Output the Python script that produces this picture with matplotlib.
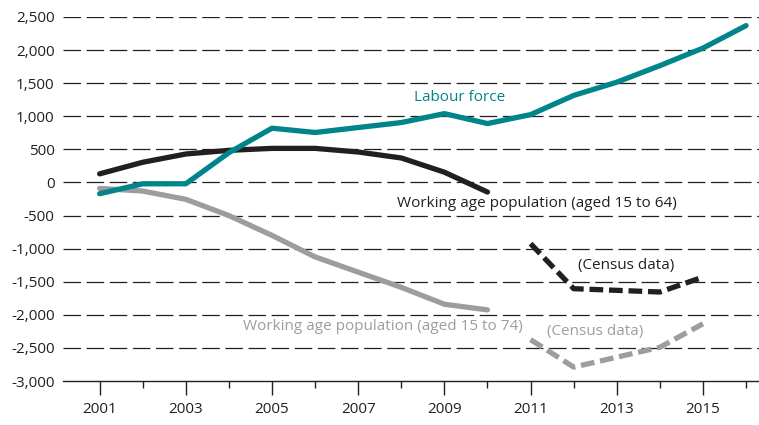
import matplotlib
matplotlib.use("Agg")
import matplotlib.pyplot as plt
from matplotlib.ticker import FuncFormatter, MultipleLocator

plt.rcParams['font.family'] = ['Open Sans', 'DejaVu Sans']

years = list(range(2001, 2017))
labour_force = [-170, -20, -20, 450, 820, 755, 830, 905, 1040, 890, 1025, 1315, 1515, 1765, 2030, 2370]

years_a = list(range(2001, 2011))
wap_64 = [130, 305, 430, 485, 515, 515, 460, 370, 155, -145]
wap_74 = [-90, -130, -255, -500, -800, -1125, -1355, -1585, -1840, -1925]

years_c = list(range(2011, 2016))
census_64 = [-925, -1605, -1630, -1655, -1430]
census_74 = [-2375, -2790, -2640, -2490, -2135]

teal = '#00858A'
black = '#231F20'
grey = '#9D9D9F'

fig = plt.figure(figsize=(7.59, 4.25), dpi=100)
ax = fig.add_axes([0.083, 0.1035, 0.917, 0.8565])

ax.set_xlim(2000.15, 2016.3)
ax.set_ylim(-3000, 2500)

for y in range(-2500, 3000, 500):
    ax.axhline(y, color=black, lw=0.9, linestyle=(0, (14, 4.5)), zorder=1)

ax.plot(years_a, wap_74, color=grey, lw=3.8, solid_capstyle='round', zorder=3)
ax.plot(years_c, census_74, color=grey, lw=3.8, linestyle=(0, (2.6, 1.1)),
        dash_capstyle='butt', zorder=3)
ax.plot(years_a, wap_64, color=black, lw=3.8, solid_capstyle='round', zorder=4)
ax.plot(years_c, census_64, color=black, lw=3.8, linestyle=(0, (2.6, 1.1)),
        dash_capstyle='butt', zorder=4)
ax.plot(years, labour_force, color=teal, lw=3.8, solid_capstyle='round', zorder=5)

fs = 11
ax.text(2009.35, 1280, 'Labour force', color=teal, fontsize=fs, va='center', ha='center')
ax.text(2007.89, -320, 'Working age population (aged 15 to 64)', color=black, fontsize=fs,
        va='center', ha='left')
ax.text(2012.09, -1255, '(Census data)', color=black, fontsize=fs, va='center', ha='left')
ax.text(2004.32, -2175, 'Working age population (aged 15 to 74)', color=grey, fontsize=fs,
        va='center', ha='left')
ax.text(2011.37, -2250, '(Census data)', color=grey, fontsize=fs, va='center', ha='left')

for s in ['top', 'right', 'left']:
    ax.spines[s].set_visible(False)
ax.spines['bottom'].set_color(black)
ax.spines['bottom'].set_linewidth(1.0)

ax.yaxis.set_major_locator(MultipleLocator(500))
ax.yaxis.set_major_formatter(FuncFormatter(lambda v, p: f'{int(v):,}'))
ax.tick_params(axis='y', length=0, pad=6, labelsize=11, labelcolor=black)

ax.set_xticks(range(2001, 2017, 2))
ax.set_xticks(range(2002, 2017, 2), minor=True)
ax.tick_params(axis='x', which='major', length=10, width=1.0, color=black, pad=5,
               labelsize=11, labelcolor=black)
ax.tick_params(axis='x', which='minor', length=5, width=1.0, color=black)

fig.savefig('out.png', dpi=100)
